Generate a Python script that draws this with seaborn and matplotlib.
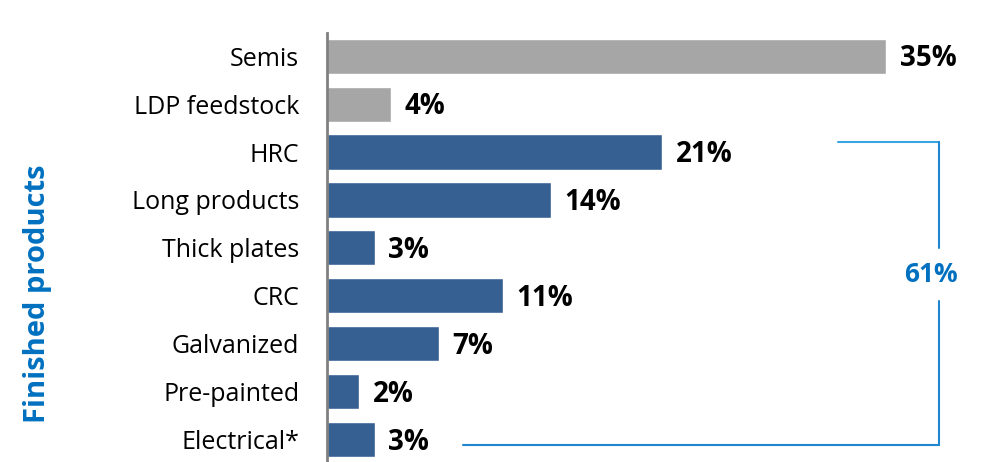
import matplotlib
matplotlib.use("Agg")
import matplotlib.pyplot as plt
import seaborn as sns
import pandas as pd

categories = ["Semis", "LDP feedstock", "HRC", "Long products", "Thick plates",
              "CRC", "Galvanized", "Pre-painted", "Electrical*"]
shares = [35, 4, 21, 14, 3, 11, 7, 2, 3]
groups = ["semi", "semi", "finished", "finished", "finished",
          "finished", "finished", "finished", "finished"]
finished_total = "61%"
side_title = "Finished products"

sns.set_theme(style="white")
plt.rcParams["font.family"] = ["Open Sans", "DejaVu Sans"]

df = pd.DataFrame({"product": categories, "share": shares, "group": groups})

fig = plt.figure(figsize=(9.87, 4.62), dpi=100)
ax = fig.add_axes([327 / 987, 0, 660 / 987, (462 - 33) / 462])

palette = {"semi": "#a6a6a6", "finished": "#376092"}
sns.barplot(data=df, y="product", x="share", hue="group", palette=palette,
            orient="h", width=0.73, dodge=False, legend=False, ax=ax,
            saturation=1)

ax.set_xlim(0, 660 / 15.97)
ax.set_ylim(8.46, -0.48)
ax.set_xlabel("")
ax.set_ylabel("")
ax.set_xticks([])
for side in ["top", "right", "bottom"]:
    ax.spines[side].set_visible(False)
ax.spines["left"].set_color("#808080")
ax.spines["left"].set_linewidth(2)
ax.tick_params(axis="y", length=0, pad=20, labelsize=18, labelcolor="#000000")

for i, v in enumerate(shares):
    ax.text(v + 0.85, i + 0.06, f"{v}%", va="center", ha="left", fontsize=20,
            fontweight="bold", color="#000000")

# bracket grouping the finished products
bc = "#1f86d0"
ax.plot([32.0, 38.3], [1.8, 1.8], color="#3aa5e0", lw=1.5, clip_on=False)
ax.plot([38.3, 38.3], [1.8, 4.0], color=bc, lw=1.5, clip_on=False)
ax.plot([38.3, 38.3], [5.1, 8.1], color=bc, lw=1.5, clip_on=False)
ax.plot([8.5, 38.3], [8.1, 8.1], color=bc, lw=1.5, clip_on=False)
ax.text(37.8, 4.55, finished_total, ha="center", va="center", fontsize=19,
        fontweight="bold", color="#0070c0")

fig.text(38 / 987, 1 - 294 / 462, side_title, rotation=90, ha="center",
         va="center", fontsize=21, fontweight="bold", color="#0070c0")

fig.savefig("out.png", dpi=100)
